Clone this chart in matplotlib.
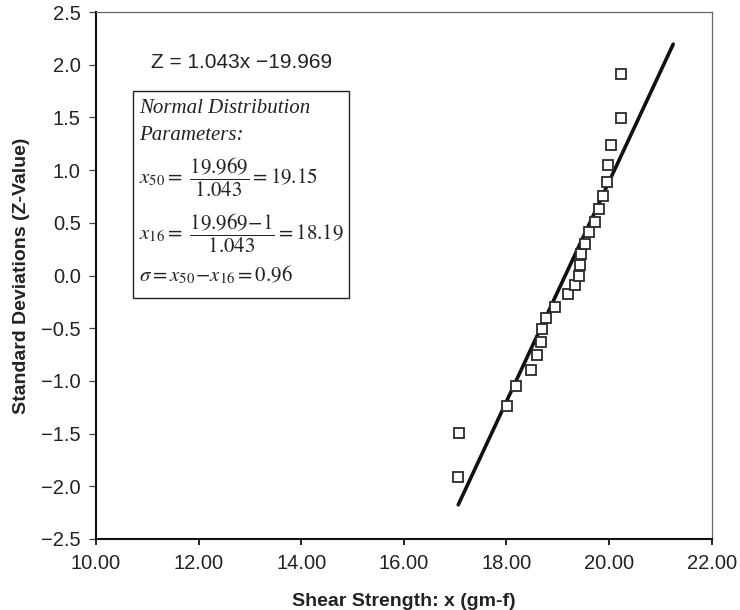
import matplotlib
matplotlib.use("Agg")
import matplotlib.pyplot as plt
from matplotlib.patches import Rectangle
import numpy as np

# Data
shear_strength = [17.06, 17.08, 18.02, 18.19, 18.47, 18.60, 18.67, 18.69, 18.77, 18.95,
                  19.19, 19.34, 19.42, 19.43, 19.46, 19.53, 19.60, 19.72, 19.80, 19.88,
                  19.95, 19.97, 20.03, 20.24, 20.23]
z_values = [-1.91, -1.49, -1.24, -1.05, -0.90, -0.75, -0.63, -0.51, -0.40, -0.30,
            -0.18, -0.09, 0.00, 0.10, 0.20, 0.30, 0.41, 0.51, 0.63, 0.75,
            0.89, 1.05, 1.24, 1.49, 1.91]
slope = 1.043
intercept = -19.969
fit_x_range = [17.06, 21.25]
x_ticks = [10, 12, 14, 16, 18, 20, 22]
y_ticks = [-2.5, -2.0, -1.5, -1.0, -0.5, 0.0, 0.5, 1.0, 1.5, 2.0, 2.5]

plt.rcParams['font.family'] = ['Liberation Sans', 'DejaVu Sans']
plt.rcParams['mathtext.fontset'] = 'stix'

fig = plt.figure(figsize=(7.4, 6.1), dpi=100)
ax = fig.add_axes([96/740, 1 - 539/610, (711.7 - 96)/740, (539 - 12)/610])

fx = np.array(fit_x_range)
ax.plot(fx, slope * fx + intercept, color='#111111', lw=2.6, solid_capstyle='round', zorder=2)
ax.plot(shear_strength, z_values, linestyle='none', marker='s', markersize=7.6,
        markerfacecolor='white', markeredgecolor='#2a2a2a', markeredgewidth=1.3, zorder=3)

ax.set_xlim(10, 22)
ax.set_ylim(-2.5, 2.5)
ax.set_xticks(x_ticks)
ax.set_xticklabels([f"{v:.2f}" for v in x_ticks])
ax.set_yticks(y_ticks)
ax.set_yticklabels([f"{v:.1f}".replace('-', '\u2212') for v in y_ticks])

for s in ['left', 'bottom']:
    ax.spines[s].set_color('#111111')
    ax.spines[s].set_linewidth(1.5)
for s in ['top', 'right']:
    ax.spines[s].set_color('#666666')
    ax.spines[s].set_linewidth(0.9)

ax.tick_params(axis='x', direction='out', length=4, width=1.3, color='#111111',
               labelsize=14.5, pad=7, labelcolor='#222222')
ax.tick_params(axis='y', direction='out', length=5, width=0.9, color='#444444',
               labelsize=14.5, pad=6, labelcolor='#222222')

ax.set_xlabel('Shear Strength: x (gm-f)', fontsize=14, fontweight='bold', labelpad=14, color='#222222')
ax.set_ylabel('Standard Deviations (Z-Value)', fontsize=14, fontweight='bold', labelpad=8, color='#222222')

ax.text(11.07, 2.02, 'Z = 1.043x \u221219.969', fontsize=15, va='center', ha='left', color='#222222')

ax.add_patch(Rectangle((10.727, -0.216), 14.93 - 10.727, 1.753 + 0.216, fill=False,
                       edgecolor='#222222', lw=1.0, zorder=1))

serif = ['Liberation Serif', 'DejaVu Serif']
ax.text(10.84, 1.589, 'Normal Distribution', fontsize=15, style='italic', family=serif,
        va='center', ha='left', color='#222222')
ax.text(10.84, 1.333, 'Parameters:', fontsize=15, style='italic', family=serif,
        va='center', ha='left', color='#222222')
ax.text(10.84, 0.935, r'$x_{50}=\ \dfrac{19.969}{1.043}=19.15$', fontsize=15,
        va='center', ha='left', color='#222222')
ax.text(10.84, 0.403, r'$x_{16}=\ \dfrac{19.969\!-\!1}{1.043}=18.19$', fontsize=15,
        va='center', ha='left', color='#222222')
ax.text(10.84, 0.005, r'$\sigma=x_{50}\!-\!x_{16}=0.96$', fontsize=15,
        va='center', ha='left', color='#222222')

fig.savefig('out.png', dpi=100)
